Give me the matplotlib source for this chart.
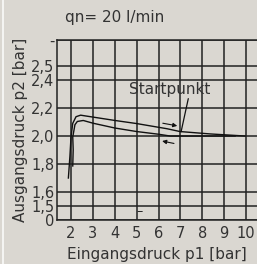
import matplotlib
matplotlib.use("Agg")
import matplotlib.pyplot as plt

# outer curve (rising branch, then upper line)
up_x = [1.88, 1.95, 2.0, 2.08, 2.23, 2.44, 2.64, 3.10, 4.01, 5.0, 6.39, 6.98, 8.35, 9.95]
up_y = [1.70, 1.855, 1.993, 2.091, 2.138, 2.149, 2.144, 2.133, 2.111, 2.089, 2.052, 2.032, 2.015, 2.0]

# inner curve (returning branch, ends flat at startpunkt level)
lo_x = [2.08, 2.10, 2.08, 2.18, 2.29, 2.56, 3.02, 4.01, 5.0, 5.99, 6.53, 6.98, 9.5]
lo_y = [1.786, 1.903, 1.993, 2.081, 2.104, 2.111, 2.091, 2.057, 2.032, 2.013, 2.0, 2.0, 2.0]

x_ticks = [2, 3, 4, 5, 6, 7, 8, 9, 10]
y_ticks = [1.40, 1.5, 1.6, 1.8, 2.0, 2.2, 2.4, 2.5, 2.686]
y_labels = ["0", "1,5", "1,6", "1,8", "2,0", "2,2", "2,4", "2,5", "-"]

bg = "#dad7d1"
ink = "#222222"

fig = plt.figure(figsize=(2.57, 2.64), dpi=100, facecolor=bg)
fig.patches.append(plt.Rectangle((2 / 257, 0), 2 / 257, 1, transform=fig.transFigure,
                                 facecolor="#f4f4f2", edgecolor="none"))
ax = fig.add_axes([57 / 257, 1 - 220 / 264, 200 / 257, 180 / 264])
ax.set_facecolor(bg)

ax.plot(up_x, up_y, color="#111111", lw=1.0)
ax.plot(lo_x, lo_y, color="#111111", lw=1.0)

# direction arrows
ax.annotate("", xy=(6.98, 2.069), xytext=(6.07, 2.095),
            arrowprops=dict(arrowstyle="-|>", color="#111111", lw=0.8, mutation_scale=6))
ax.annotate("", xy=(6.04, 1.968), xytext=(6.83, 1.943),
            arrowprops=dict(arrowstyle="-|>", color="#111111", lw=0.8, mutation_scale=6))

# start point label and its leader line
ax.text(6.53, 2.333, "Startpunkt", ha="center", va="center", fontsize=11, color="#333333")
ax.annotate("", xy=(7.03, 2.03), xytext=(7.36, 2.267),
            arrowprops=dict(arrowstyle="-", color="#111111", lw=0.9,
                            shrinkA=0, shrinkB=0))

ax.text(5.0, 1.457, "\u2013", fontsize=9, color=ink, ha="left", va="center")

ax.set_xlim(1.36, 10.5)
ax.set_ylim(1.40, 2.686)
ax.set_xticks(x_ticks)
ax.set_yticks(y_ticks)
ax.set_yticklabels(y_labels)
ax.tick_params(length=0, labelsize=10.5, labelcolor="#333333")
ax.tick_params(axis="x", pad=4)
ax.tick_params(axis="y", pad=2)
ax.grid(True, color=ink, lw=1.1)
ax.set_axisbelow(True)
for side in ["left", "top", "bottom"]:
    ax.spines[side].set_color(ink)
    ax.spines[side].set_linewidth(1.1)
ax.spines["right"].set_visible(False)

ax.set_xlabel("Eingangsdruck p1 [bar]", fontsize=11, color="#333333", labelpad=5)
ax.set_ylabel("Ausgangsdruck p2 [bar]", fontsize=11, color="#333333", labelpad=2)
fig.text(115 / 257, 1 - 18 / 264, "qn= 20 l/min", ha="center", va="center",
         fontsize=11, color="#333333")

fig.savefig("out.png", dpi=100, facecolor=bg)
